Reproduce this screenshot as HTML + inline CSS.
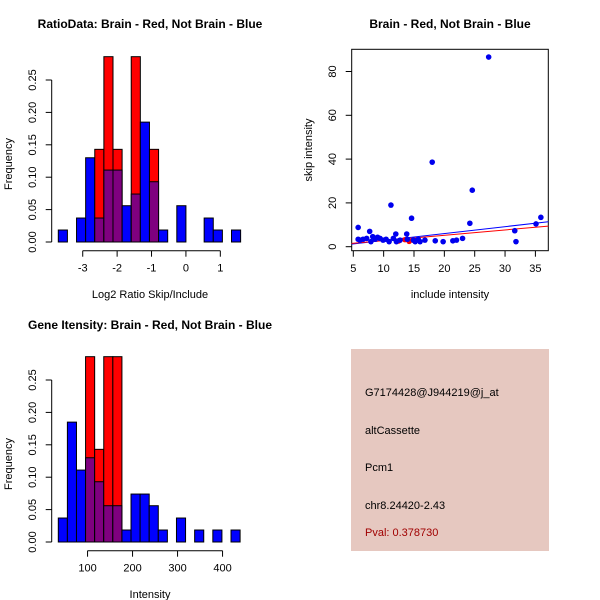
<!DOCTYPE html>
<html><head><meta charset="utf-8"><style>
body{margin:0;background:#fff}
svg{display:block;font-family:"Liberation Sans",sans-serif}
</style></head><body>
<svg width="600" height="600" viewBox="0 0 600 600">
<g id="h1"></g>
<g id="h2"></g>
<g id="sc"></g>
<g>
<rect x="351" y="349" width="198" height="202" fill="#e6c8c0"/>
<text x="365" y="396" font-size="11" fill="#000">G7174428@J944219@j_at</text>
<text x="365" y="434" font-size="11" fill="#000">altCassette</text>
<text x="365" y="471" font-size="11" fill="#000">Pcm1</text>
<text x="365" y="509" font-size="11" fill="#000">chr8.24420-2.43</text>
<text x="365" y="536" font-size="11" fill="#a00000">Pval: 0.378730</text>
</g>
</svg>
<script>
const NS="http://www.w3.org/2000/svg";
// Ratio histogram data
const ratioBlue=[0.0185,0,0.037,0.13,0.037,0.111,0.111,0.056,0.074,0.185,0.093,0.0185,0,0.056,0,0,0.037,0.0185,0,0.0185];
const ratioRed=[0,0,0,0,0.143,0.286,0.143,0,0.286,0,0.143,0,0,0,0,0,0,0,0,0];
const ratioTicks=[-3,-2,-1,0,1];
// Intensity histogram data
const intBlue=[0.037,0.185,0.111,0.13,0.093,0.056,0.056,0.0185,0.074,0.074,0.056,0.0185,0,0.037,0,0.0185,0,0.0185,0,0.0185];
const intRed=[0,0,0,0.286,0.143,0.286,0.286,0,0,0,0,0,0,0,0,0,0,0,0,0];
const intTicks=[100,200,300,400];
const freqTicks=[0,0.05,0.10,0.15,0.20,0.25];
const freqLabels=["0.00","0.05","0.10","0.15","0.20","0.25"];
// Scatter data
const incl=[5.8,5.8,6.1,6.6,7.2,7.7,7.9,8.2,8.6,9,9.4,9.9,10.4,10.9,11.2,11.6,12,12.1,12.7,13.8,13.9,14.6,14.9,15.2,15.7,16,16.8,18,18.5,19.8,21.4,22,23,24.2,24.6,27.3,31.6,31.8,35.1,35.9];
const skip=[8.8,3.4,3,3.4,3.8,7,2.3,4.6,3.4,4.3,3.8,3,3.4,2.3,19,3.8,5.8,2.3,3,5.8,3.4,13,3,2.3,3.4,2.3,3,38.6,2.7,2.3,2.7,3,3.8,10.7,25.8,86.6,7.3,2.3,10.4,13.4];
const redX=[12.5,13.5,14.2,14.8,15.3];
const redY=[2.6,3.2,2.4,3.0,2.8];
const scXTicks=[5,10,15,20,25,30,35];
const scYTicks=[0,20,40,60,80];
const blueLine=[1.2,11.4];
const redLine=[1.5,9.4];

function el(p,tag,attrs,txt){const e=document.createElementNS(NS,tag);for(const k in attrs)e.setAttribute(k,attrs[k]);if(txt!==undefined)e.textContent=txt;p.appendChild(e);return e;}

function hist(gid,blue,red,x0,xu,start,w,ticks,y0,title,xlab,ty,ly){
  const g=document.getElementById(gid);
  const X=v=>x0+(v-start)*xu;
  const Y=v=>y0-v*648;
  for(let i=0;i<blue.length;i++){
    const a=start+i*w,b=a+w;const xa=X(a),xb=X(b);
    const bl=blue[i],rd=red[i];
    if(rd>0){const r=el(g,'rect',{x:xa,y:Y(rd),width:xb-xa,height:rd*648,fill:'#ff0000',stroke:'#000','stroke-width':1});
      }
    if(bl>0){const r=el(g,'rect',{x:xa,y:Y(bl),width:xb-xa,height:bl*648,fill:(rd>0?'#7f007f':'#0000ff'),stroke:'#000','stroke-width':1});
      
      if(rd>0&&bl>rd){const p=el(g,'rect',{x:xa,y:Y(bl),width:xb-xa,height:(bl-rd)*648,fill:'#0000ff',stroke:'#000','stroke-width':1});}
    }
  }
  const ax=51.7;
  const ya=el(g,'line',{x1:ax,x2:ax,y1:Y(0),y2:Y(0.25),stroke:'#000'});
  
  freqTicks.forEach((t,i)=>{el(g,'line',{x1:ax-6,x2:ax,y1:Y(t),y2:Y(t),stroke:'#000'});
    const tx=el(g,'text',{x:36,y:Y(t),'font-size':11,'text-anchor':'middle',transform:`rotate(-90 36 ${Y(t)})`},freqLabels[i]);
    });
  const yt=el(g,'text',{x:12,y:Y(0.125)+3,'font-size':11,'text-anchor':'middle',transform:`rotate(-90 12 ${Y(0.125)+3})`},'Frequency');
  
  const axY=y0+8.7;
  const xa=el(g,'line',{x1:X(ticks[0]),x2:X(ticks[ticks.length-1]),y1:axY,y2:axY,stroke:'#000'});
  
  ticks.forEach(t=>{el(g,'line',{x1:X(t),x2:X(t),y1:axY,y2:axY+6,stroke:'#000'});
    const tx=el(g,'text',{x:X(t),y:axY+21,'font-size':11,'text-anchor':'middle'},String(t));
    });
  const xl=el(g,'text',{x:150,y:ly,'font-size':11,'text-anchor':'middle'},xlab);
  
  const tt=el(g,'text',{x:150,y:ty,'font-size':12,'font-weight':'bold','text-anchor':'middle'},title);
  
}
hist('h1',ratioBlue,ratioRed,58.3,34.4,-3.71,0.265,ratioTicks,242,'RatioData: Brain - Red, Not Brain - Blue','Log2 Ratio Skip/Include',28,298);
hist('h2',intBlue,intRed,58.3,0.45,35,20.2,intTicks,542,'Gene Itensity: Brain - Red, Not Brain - Blue','Intensity',329,598);

(function(){
  const g=document.getElementById('sc');
  const X=v=>353.3+(v-5)*6.07;
  const Y=v=>246.7-v*2.19;
  const box=el(g,'rect',{x:351.7,y:49.3,width:196.6,height:201.4,fill:'none',stroke:'#000'});
  
  const bl=el(g,'line',{x1:351.7,x2:548.3,y1:Y(blueLine[0]),y2:Y(blueLine[1]),stroke:'#0000ff'});
  
  const rl=el(g,'line',{x1:351.7,x2:548.3,y1:Y(redLine[0]),y2:Y(redLine[1]),stroke:'#ff0000'});
  
  redX.forEach((x,i)=>{const c=el(g,'circle',{cx:X(x),cy:Y(redY[i]),r:2.7,fill:'#ff0000'});
    });
  incl.forEach((x,i)=>{const c=el(g,'circle',{cx:X(x),cy:Y(skip[i]),r:2.8,fill:'#0000ee'});
    });
  scXTicks.forEach(t=>{el(g,'line',{x1:X(t),x2:X(t),y1:250.7,y2:256.7,stroke:'#000'});
    const tx=el(g,'text',{x:X(t),y:272,'font-size':11,'text-anchor':'middle'},t);
    });
  scYTicks.forEach(t=>{el(g,'line',{x1:345.7,x2:351.7,y1:Y(t),y2:Y(t),stroke:'#000'});
    const tx=el(g,'text',{x:336,y:Y(t),'font-size':11,'text-anchor':'middle',transform:`rotate(-90 336 ${Y(t)})`},t);
    });
  const xl=el(g,'text',{x:450,y:298,'font-size':11,'text-anchor':'middle'},'include intensity');
  
  const yl=el(g,'text',{x:312,y:150,'font-size':11,'text-anchor':'middle',transform:'rotate(-90 312 150)'},'skip intensity');
  
  const tt=el(g,'text',{x:450,y:28,'font-size':12,'font-weight':'bold','text-anchor':'middle'},'Brain - Red, Not Brain - Blue');
  
})();
</script>
</body></html>
